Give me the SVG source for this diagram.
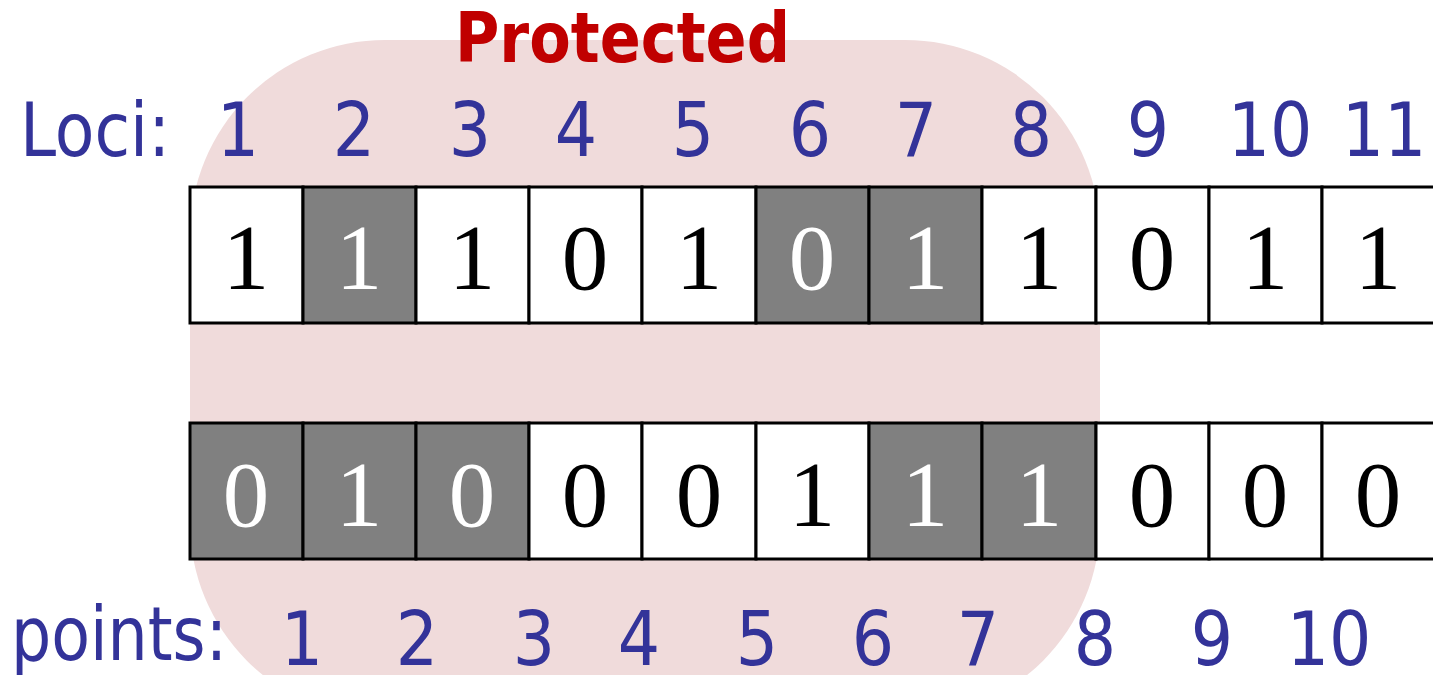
<svg xmlns="http://www.w3.org/2000/svg" width="1433" height="675" viewBox="0 0 1433 675">
<style>
.lbl{font-family:"DejaVu Sans Condensed","DejaVu Sans",sans-serif;font-size:74px;fill:#333399}
.num{font-family:"DejaVu Sans Condensed","DejaVu Sans",sans-serif;font-size:74px;fill:#333399;text-anchor:middle}
.cell{stroke:#000;stroke-width:3;fill:#fff}
.cell.g{fill:#808080}
.bit{font-family:"Liberation Serif","Times New Roman",serif;font-size:93px;text-anchor:middle;fill:#000}
.bit.w{fill:#fff}
.title{font-family:"DejaVu Sans Condensed","DejaVu Sans",sans-serif;font-weight:bold;font-size:69px;fill:#C00000}
</style>
<rect width="1433" height="675" fill="#fff"/>
<g id="protected-region">
<rect x="190" y="40" width="910" height="678" rx="195" ry="195" fill="#F0DBDB"/>
<text class="title" x="455" y="62" textLength="335" lengthAdjust="spacingAndGlyphs">Protected</text>
</g>
<g id="loci-labels">
<text class="lbl" x="20" y="156" textLength="150" lengthAdjust="spacingAndGlyphs">Loci:</text>
<text class="num" x="238" y="156">1</text>
<text class="num" x="354" y="156">2</text>
<text class="num" x="470" y="156">3</text>
<text class="num" x="576" y="156">4</text>
<text class="num" x="693" y="156">5</text>
<text class="num" x="810" y="156">6</text>
<text class="num" x="916" y="156">7</text>
<text class="num" x="1031" y="156">8</text>
<text class="num" x="1148" y="156">9</text>
<text class="num" x="1270" y="156">10</text>
<text class="num" x="1384" y="156">11</text>
</g>
<g id="parent1">
<rect class="cell" x="190" y="187" width="113" height="136"/>
<rect class="cell g" x="303" y="187" width="113" height="136"/>
<rect class="cell" x="416" y="187" width="113" height="136"/>
<rect class="cell" x="529" y="187" width="113" height="136"/>
<rect class="cell" x="642" y="187" width="114" height="136"/>
<rect class="cell g" x="756" y="187" width="113" height="136"/>
<rect class="cell g" x="869" y="187" width="113" height="136"/>
<rect class="cell" x="982" y="187" width="114" height="136"/>
<rect class="cell" x="1096" y="187" width="113" height="136"/>
<rect class="cell" x="1209" y="187" width="113" height="136"/>
<rect class="cell" x="1322" y="187" width="120" height="136"/>
<text class="bit" x="246" y="289">1</text>
<text class="bit w" x="359" y="289">1</text>
<text class="bit" x="472" y="289">1</text>
<text class="bit" x="585" y="289">0</text>
<text class="bit" x="699" y="289">1</text>
<text class="bit w" x="812" y="289">0</text>
<text class="bit w" x="925" y="289">1</text>
<text class="bit" x="1039" y="289">1</text>
<text class="bit" x="1152" y="289">0</text>
<text class="bit" x="1265" y="289">1</text>
<text class="bit" x="1378" y="289">1</text>
</g>
<g id="parent2">
<rect class="cell g" x="190" y="423" width="113" height="136"/>
<rect class="cell g" x="303" y="423" width="113" height="136"/>
<rect class="cell g" x="416" y="423" width="113" height="136"/>
<rect class="cell" x="529" y="423" width="113" height="136"/>
<rect class="cell" x="642" y="423" width="114" height="136"/>
<rect class="cell" x="756" y="423" width="113" height="136"/>
<rect class="cell g" x="869" y="423" width="113" height="136"/>
<rect class="cell g" x="982" y="423" width="114" height="136"/>
<rect class="cell" x="1096" y="423" width="113" height="136"/>
<rect class="cell" x="1209" y="423" width="113" height="136"/>
<rect class="cell" x="1322" y="423" width="120" height="136"/>
<text class="bit w" x="246" y="526">0</text>
<text class="bit w" x="359" y="526">1</text>
<text class="bit w" x="472" y="526">0</text>
<text class="bit" x="585" y="526">0</text>
<text class="bit" x="699" y="526">0</text>
<text class="bit" x="812" y="526">1</text>
<text class="bit w" x="925" y="526">1</text>
<text class="bit w" x="1039" y="526">1</text>
<text class="bit" x="1152" y="526">0</text>
<text class="bit" x="1265" y="526">0</text>
<text class="bit" x="1378" y="526">0</text>
</g>
<g id="point-labels">
<text class="lbl" x="11" y="660" textLength="216" lengthAdjust="spacingAndGlyphs">points:</text>
<text class="num" x="302" y="665">1</text>
<text class="num" x="417" y="665">2</text>
<text class="num" x="534" y="665">3</text>
<text class="num" x="639" y="665">4</text>
<text class="num" x="757" y="665">5</text>
<text class="num" x="873" y="665">6</text>
<text class="num" x="978" y="665">7</text>
<text class="num" x="1095" y="665">8</text>
<text class="num" x="1212" y="665">9</text>
<text class="num" x="1329" y="665">10</text>
</g>
<g id="connectors"></g>
</svg>
